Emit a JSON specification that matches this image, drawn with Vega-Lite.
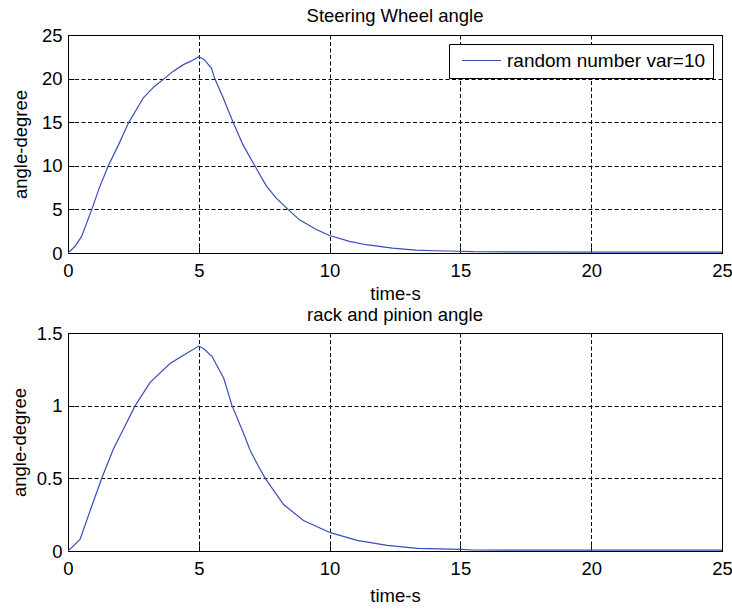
{
  "$schema": "https://vega.github.io/schema/vega-lite/v6.json",
  "background": "white",
  "padding": {"left": 9, "top": 6, "right": 8, "bottom": 4},
  "bounds": "flush",
  "spacing": 80,
  "datasets": {
    "steer": [
      {"t": 0, "y": 0}, {"t": 0.27, "y": 0.77}, {"t": 0.52, "y": 1.9}, {"t": 0.91, "y": 5.0},
      {"t": 1.2, "y": 7.5}, {"t": 1.54, "y": 10.0}, {"t": 1.93, "y": 12.4}, {"t": 2.31, "y": 14.9},
      {"t": 2.88, "y": 17.8}, {"t": 3.3, "y": 19.1}, {"t": 3.68, "y": 20.0}, {"t": 4.0, "y": 20.8},
      {"t": 4.41, "y": 21.6}, {"t": 4.7, "y": 22.0}, {"t": 5.0, "y": 22.5}, {"t": 5.2, "y": 22.2},
      {"t": 5.48, "y": 21.2}, {"t": 5.61, "y": 20.0}, {"t": 5.93, "y": 17.8}, {"t": 6.31, "y": 15.0},
      {"t": 6.69, "y": 12.4}, {"t": 7.14, "y": 10.0}, {"t": 7.58, "y": 7.7}, {"t": 7.96, "y": 6.3},
      {"t": 8.41, "y": 5.0}, {"t": 8.85, "y": 3.8}, {"t": 9.49, "y": 2.7}, {"t": 10.0, "y": 2.0},
      {"t": 10.76, "y": 1.34}, {"t": 11.4, "y": 0.95}, {"t": 12.4, "y": 0.57}, {"t": 13.3, "y": 0.33},
      {"t": 14.0, "y": 0.26}, {"t": 15.0, "y": 0.2}, {"t": 15.5, "y": 0.15}, {"t": 17.0, "y": 0.12},
      {"t": 20.0, "y": 0.1}, {"t": 25.0, "y": 0.1}
    ],
    "rack": [
      {"t": 0, "y": 0}, {"t": 0.46, "y": 0.08}, {"t": 0.91, "y": 0.31}, {"t": 1.29, "y": 0.5},
      {"t": 1.73, "y": 0.7}, {"t": 2.12, "y": 0.84}, {"t": 2.57, "y": 1.0}, {"t": 3.14, "y": 1.16},
      {"t": 3.9, "y": 1.29}, {"t": 4.54, "y": 1.36}, {"t": 5.0, "y": 1.41}, {"t": 5.2, "y": 1.39},
      {"t": 5.5, "y": 1.34}, {"t": 5.95, "y": 1.19}, {"t": 6.27, "y": 1.0}, {"t": 6.71, "y": 0.81},
      {"t": 6.97, "y": 0.69}, {"t": 7.29, "y": 0.58}, {"t": 7.54, "y": 0.5}, {"t": 8.24, "y": 0.32},
      {"t": 9.0, "y": 0.21}, {"t": 10.03, "y": 0.126}, {"t": 11.05, "y": 0.073}, {"t": 12.2, "y": 0.039},
      {"t": 13.35, "y": 0.018}, {"t": 15.0, "y": 0.011}, {"t": 15.5, "y": 0.007}, {"t": 20.0, "y": 0.006},
      {"t": 25.0, "y": 0.006}
    ]
  },
  "config": {
    "font": "Liberation Sans",
    "view": {"stroke": "black", "strokeWidth": 1},
    "axis": {
      "grid": true, "gridColor": "black", "gridDash": [4, 2.5], "gridOpacity": 1, "gridWidth": 1,
      "domain": false, "tickColor": "black", "tickSize": -6, "ticks": true,
      "labelColor": "black", "labelFontSize": 18.5, "labelFont": "Liberation Sans",
      "titleColor": "black", "titleFontSize": 18.5, "titleFontWeight": "normal", "titleFont": "Liberation Sans"
    },
    "axisX": {"labelPadding": 14, "titlePadding": 5, "labelFlush": false},
    "axisY": {"labelPadding": 12, "titlePadding": 11},
    "title": {"fontSize": 18.5, "fontWeight": "normal", "color": "black", "font": "Liberation Sans", "offset": 1, "anchor": "middle"},
    "legend": {
      "orient": "top-right", "offset": 9, "strokeColor": "black", "fillColor": "white", "padding": 7,
      "symbolType": "M-3,0H3", "symbolSize": 169, "symbolStrokeWidth": 1.2, "symbolOffset": 16,
      "labelFontSize": 19, "labelOffset": 16,
      "labelColor": "black", "labelFont": "Liberation Sans", "labelLimit": 400, "title": null, "cornerRadius": 0
    }
  },
  "vconcat": [
    {
      "width": 654, "height": 218,
      "title": {"text": "Steering  Wheel angle"},
      "data": {"name": "steer"},
      "transform": [{"calculate": "'random number var=10'", "as": "series"}],
      "mark": {"type": "line", "strokeWidth": 1.2, "clip": true},
      "encoding": {
        "x": {"field": "t", "type": "quantitative", "scale": {"domain": [0, 25], "nice": false, "zero": false},
              "axis": {"values": [0, 5, 10, 15, 20, 25], "title": "time-s"}},
        "y": {"field": "y", "type": "quantitative", "scale": {"domain": [0, 25], "nice": false},
              "axis": {"values": [0, 5, 10, 15, 20, 25], "title": "angle-degree"}},
        "color": {"field": "series", "type": "nominal", "scale": {"range": ["#3a4cb6"]}, "legend": {"title": null}}
      }
    },
    {
      "width": 654, "height": 218,
      "title": {"text": "rack and pinion angle", "offset": 0},
      "data": {"name": "rack"},
      "transform": [{"calculate": "'random number var=10'", "as": "series"}],
      "mark": {"type": "line", "strokeWidth": 1.2, "clip": true},
      "encoding": {
        "x": {"field": "t", "type": "quantitative", "scale": {"domain": [0, 25], "nice": false, "zero": false},
              "axis": {"values": [0, 5, 10, 15, 20, 25], "title": "time-s", "titlePadding": 9}},
        "y": {"field": "y", "type": "quantitative", "scale": {"domain": [0, 1.5], "nice": false},
              "axis": {"values": [0, 0.5, 1, 1.5], "format": "~g", "title": "angle-degree", "titlePadding": 7}},
        "color": {"field": "series", "type": "nominal", "scale": {"range": ["#3a4cb6"]}, "legend": {"title": null}}
      }
    }
  ]
}
